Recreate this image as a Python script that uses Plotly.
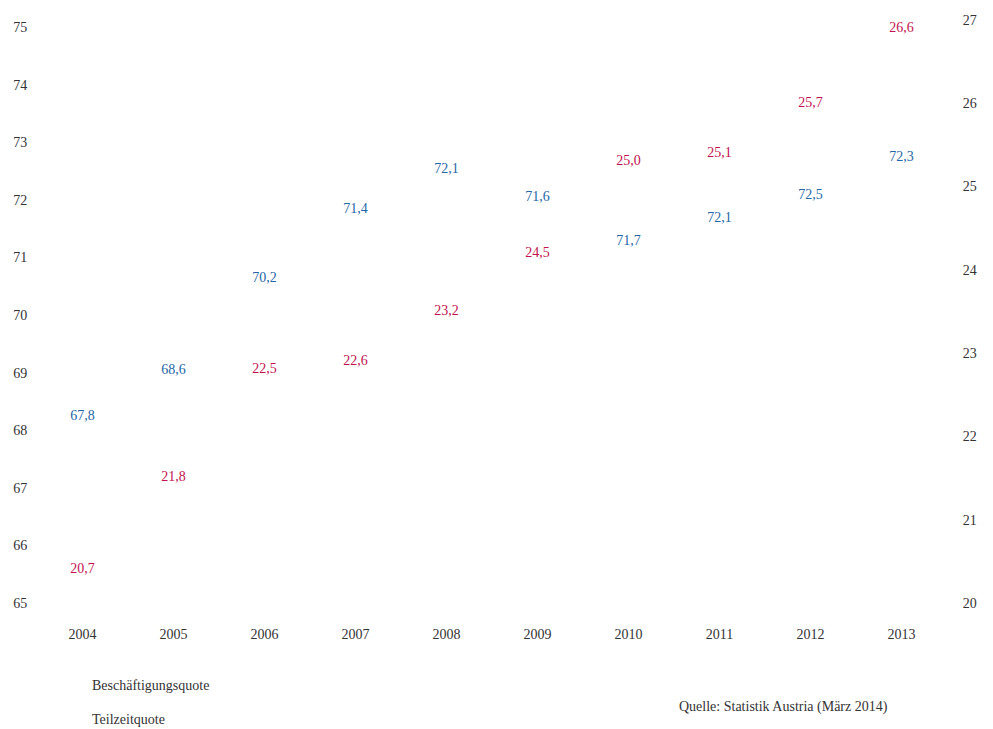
import plotly.graph_objects as go

years = ["2004", "2005", "2006", "2007", "2008", "2009", "2010", "2011", "2012", "2013"]
beschaeftigungsquote = [67.8, 68.6, 70.2, 71.4, 72.1, 71.6, 71.7, 72.1, 72.5, 72.3]
teilzeitquote = [20.7, 21.8, 22.5, 22.6, 23.2, 24.5, 25.0, 25.1, 25.7, 26.6]
besch_label_pos = ["top center"] * 6 + ["bottom center"] * 3 + ["top center"]
teil_label_pos = ["bottom center", "bottom center", "top center", "top center", "top center",
                  "bottom center", "top center", "top center", "top center", "top center"]
left_ticks = list(range(65, 76))
right_ticks = list(range(20, 28))

BLUE = "#2466a6"
RED = "#c2124f"
FONT = "Liberation Serif"
FS = 14

# page body has an 8px margin: figure coordinates = screen coordinates - 8
L, T, R, B = 29, 12, 54, 134
PW = 993 - L - R
PH = 729 - T - B

fig = go.Figure()
fig.add_trace(go.Scatter(
    x=years, y=beschaeftigungsquote, mode="markers+text", name="Beschäftigungsquote",
    marker=dict(size=27, color="rgba(0,0,0,0)"),
    texttemplate="%{y:.1f}", textposition=besch_label_pos,
    textfont=dict(color=BLUE, family=FONT, size=FS), showlegend=False, yaxis="y",
    hoverinfo="skip", cliponaxis=False))
fig.add_trace(go.Scatter(
    x=years, y=teilzeitquote, mode="markers+text", name="Teilzeitquote",
    marker=dict(size=27, color="rgba(0,0,0,0)"),
    texttemplate="%{y:.1f}", textposition=teil_label_pos,
    textfont=dict(color=RED, family=FONT, size=FS), showlegend=False, yaxis="y2",
    hoverinfo="skip", cliponaxis=False))

axis_font = dict(family=FONT, size=FS, color="#333333")
fig.update_layout(
    width=993, height=729,
    margin=dict(l=L, r=R, t=T, b=B, autoexpand=False),
    paper_bgcolor="white", plot_bgcolor="white",
    separators=",.",
    font=dict(family=FONT, size=FS, color="#333333"),
    xaxis=dict(type="category", range=[-0.5, 9.5], showgrid=False, zeroline=False,
               showline=False, ticks="outside", ticklen=18, tickcolor="rgba(0,0,0,0)",
               tickfont=axis_font, automargin=False),
    yaxis=dict(range=[65, 65 + 583 / 57.6], tickvals=left_ticks, showgrid=False,
               zeroline=False, showline=False, ticks="outside", ticklen=6,
               tickcolor="rgba(0,0,0,0)", tickfont=axis_font, automargin=False),
    yaxis2=dict(range=[20, 27], tickvals=right_ticks, overlaying="y", side="right",
                showgrid=False, zeroline=False, showline=False, ticks="outside",
                ticklen=12, tickcolor="rgba(0,0,0,0)", tickfont=axis_font,
                automargin=False),
    showlegend=False,
)

def px_x(sx):
    return (sx - 8 - L) / PW

def px_y(sy):
    return (729 - B - (sy - 8)) / PH

fig.add_annotation(text="Beschäftigungsquote", xref="paper", yref="paper",
                   x=px_x(90), y=px_y(685), xanchor="left", yanchor="middle",
                   showarrow=False, font=axis_font)
fig.add_annotation(text="Teilzeitquote", xref="paper", yref="paper",
                   x=px_x(90), y=px_y(719), xanchor="left", yanchor="middle",
                   showarrow=False, font=axis_font)
fig.add_annotation(text="Quelle: Statistik Austria (März 2014)", xref="paper", yref="paper",
                   x=px_x(677), y=px_y(707), xanchor="left", yanchor="middle",
                   showarrow=False, font=axis_font)

fig.write_html("out.html")
